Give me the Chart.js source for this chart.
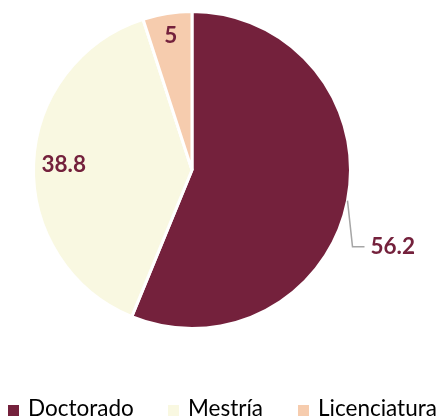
<!DOCTYPE html>
<html>
<head>
<meta charset="utf-8">
<script src="https://cdn.jsdelivr.net/npm/chart.js@4"></script>
<style>
  html, body { margin: 0; padding: 0; background: #fff; }
  #grafico { display: block; }
</style>
</head>
<body>
<canvas id="grafico" width="440" height="418"></canvas>
<script>
// ------------ Datos ------------ //

var categorias = ['Doctorado', 'Mestría', 'Licenciatura'];
var valores = [56.2, 38.8, 5];
var colores = ['#74213c', '#f9f8e1', '#f6ccae'];

var colorTexto = '#74213c';
var fuente = 'Lato, "Open Sans", sans-serif';

// ------------ Etiquetas de datos ------------ //

var etiquetasPlugin = {
    id: 'etiquetas',
    afterDatasetsDraw: function (chart) {
        var ctx = chart.ctx;
        var arcos = chart.getDatasetMeta(0).data;
        ctx.save();
        ctx.font = 'bold 22.5px ' + fuente;
        ctx.fillStyle = colorTexto;
        ctx.textBaseline = 'middle';
        arcos.forEach(function (arco, i) {
            var p = arco.getProps(['x', 'y', 'startAngle', 'endAngle', 'outerRadius'], true);
            var medio = (p.startAngle + p.endAngle) / 2;
            var texto = String(valores[i]);
            if (i === 0) {
                // etiqueta afuera con línea guía
                var x0 = p.x + Math.cos(medio) * p.outerRadius;
                var y0 = p.y + Math.sin(medio) * p.outerRadius;
                var x1 = x0 + 5, y1 = y0 + 46;
                ctx.strokeStyle = '#a6a6a6';
                ctx.lineWidth = 1.5;
                ctx.beginPath();
                ctx.moveTo(x0, y0);
                ctx.lineTo(x1, y1);
                ctx.lineTo(x1 + 12, y1);
                ctx.stroke();
                ctx.textAlign = 'left';
                ctx.fillText(texto, x1 + 18, y1);
            } else {
                var f = i === 1 ? 0.81 : 0.86;
                ctx.textAlign = 'center';
                ctx.fillText(texto, p.x + Math.cos(medio) * p.outerRadius * f, p.y + Math.sin(medio) * p.outerRadius * f);
            }
        });
        ctx.restore();
    }
};

// ------------ Leyenda ------------ //

var posLeyenda = [8, 168, 298];

var leyendaPlugin = {
    id: 'leyenda',
    afterDraw: function (chart) {
        var ctx = chart.ctx;
        ctx.save();
        ctx.font = '22.5px ' + fuente;
        ctx.textAlign = 'left';
        ctx.textBaseline = 'alphabetic';
        categorias.forEach(function (cat, i) {
            var x = posLeyenda[i];
            ctx.fillStyle = colores[i];
            ctx.fillRect(x, 405, 11, 11);
            ctx.fillStyle = '#000';
            ctx.fillText(cat, x + 20, 416);
        });
        ctx.restore();
    }
};

// ------------ Gráfico ------------ //

var ctxPie = document.getElementById('grafico').getContext('2d');
var grafico = new Chart(ctxPie, {
    type: 'pie',
    data: {
        labels: categorias,
        datasets: [{
            data: valores,
            backgroundColor: colores,
            borderColor: '#ffffff',
            borderWidth: 3
        }]
    },
    options: {
        responsive: false,
        animation: false,
        layout: {
            padding: { left: 32, right: 88, top: 10, bottom: 88 }
        },
        plugins: {
            legend: { display: false },
            tooltip: { enabled: false }
        }
    },
    plugins: [etiquetasPlugin, leyendaPlugin]
});
</script>
</body>
</html>
